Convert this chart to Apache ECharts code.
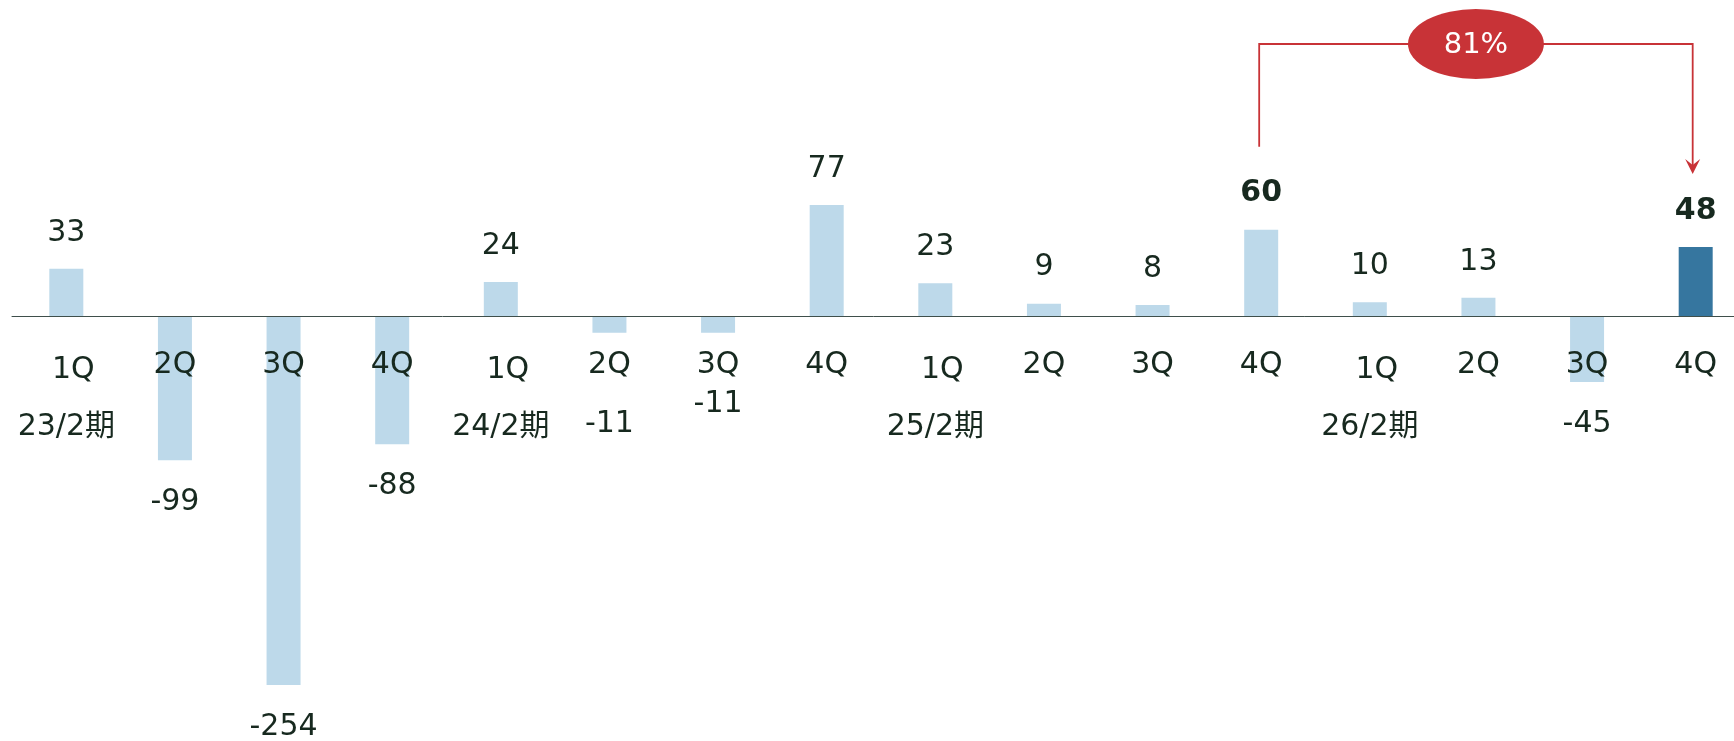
<!DOCTYPE html>
<html>
<head>
<meta charset="utf-8">
<script src="https://cdn.jsdelivr.net/npm/echarts@6/dist/echarts.min.js"></script>
<style>
  html, body { margin: 0; padding: 0; background: #fff; }
  #chart { width: 1734px; height: 741px; }
</style>
</head>
<body>
<div id="chart"></div>
<script>
    'use strict';

    // quarterly figures, 23/2期 .. 26/2期
    var quarters = ['1Q', '2Q', '3Q', '4Q', '1Q', '2Q', '3Q', '4Q',
                    '1Q', '2Q', '3Q', '4Q', '1Q', '2Q', '3Q', '4Q'];
    var fiscalYears = ['23/2期', '', '', '', '24/2期', '', '', '',
                       '25/2期', '', '', '', '26/2期', '', '', ''];
    var values = [33, -99, -254, -88, 24, -11, -11, 77,
                  23, 9, 8, 60, 10, 13, -45, 48];
    var compareFrom = 11;
    var compareTo = 15;
    var compareLabel = '81%';

    var FONT = '"DejaVu Sans", Verdana, "Noto Sans CJK JP", sans-serif';
    var TEXT = '#17291f';
    var RED = '#c83337';

    // label gaps for the two small bars whose labels sit under the axis text
    var extraGap = { 5: 77, 6: 57 };

    var data = values.map(function(v, i) {
        var neg = v < 0;
        var item = {
            value: v,
            label: {
                position: neg ? 'bottom' : 'top',
                distance: extraGap[i] || (neg ? 27 : 21)
            }
        };
        if (i === compareFrom || i === compareTo) {
            item.label.fontWeight = 'bold';
        }
        if (i === compareTo) {
            item.itemStyle = { color: '#36769f' };
        }
        return item;
    });

    var chart = echarts.init(document.getElementById('chart'), null, { renderer: 'canvas' });

    // grid ends at the zero line so the category labels sit right under it;
    // negative bars are drawn below the grid (clip off)
    chart.setOption({
        animation: false,
        grid: {
            left: 12, top: 0, width: 1738, height: 316.7,
            containLabel: false,
            outerBoundsMode: 'none'
        },
        xAxis: {
            type: 'category',
            data: quarters,
            z: 5,
            axisLine: { show: true, onZero: false, lineStyle: { color: '#3f4f4b', width: 1 } },
            axisTick: { show: false },
            axisLabel: {
                interval: 0,
                margin: 18,
                color: TEXT,
                fontFamily: FONT,
                formatter: function(val, idx) {
                    if (fiscalYears[idx]) {
                        return '{a|' + val + '}\n{y|' + fiscalYears[idx] + '}';
                    }
                    return '{q|' + val + '}';
                },
                rich: {
                    q: { fontSize: 30, lineHeight: 61, color: TEXT, fontFamily: FONT },
                    a: { fontSize: 30, lineHeight: 71, color: TEXT, fontFamily: FONT, padding: [0, 0, 0, 14] },
                    y: { fontSize: 30, lineHeight: 43, color: TEXT, fontFamily: FONT }
                }
            }
        },
        yAxis: {
            type: 'value',
            min: 0,
            max: 218.4,
            axisLine: { show: false },
            axisTick: { show: false },
            axisLabel: { show: false },
            splitLine: { show: false }
        },
        series: [{
            type: 'bar',
            data: data,
            clip: false,
            barWidth: 34,
            itemStyle: { color: '#bdd9ea' },
            label: {
                show: true,
                fontSize: 30,
                lineHeight: 30,
                color: TEXT,
                fontFamily: FONT
            }
        }]
    });

    // bracket with ellipse badge between the two compared quarters
    var p1 = chart.convertToPixel({ seriesIndex: 0 }, [compareFrom, values[compareFrom]]);
    var p2 = chart.convertToPixel({ seriesIndex: 0 }, [compareTo, values[compareTo]]);
    var x1 = p1[0] - 2, x2 = p2[0] - 3;
    var topY = 44;
    var startY = p1[1] - 83;
    var tipY = p2[1] - 73;
    var midX = (x1 + x2) / 2;

    chart.setOption({
        graphic: [
            {
                type: 'polyline',
                shape: { points: [[x1, startY], [x1, topY], [x2, topY], [x2, tipY - 9]] },
                style: { stroke: RED, lineWidth: 1.8, fill: null }
            },
            {
                type: 'polygon',
                shape: { points: [[x2 - 7.5, tipY - 15], [x2, tipY - 9], [x2 + 7.5, tipY - 15], [x2, tipY]] },
                style: { fill: RED }
            },
            {
                type: 'circle',
                x: midX, y: topY,
                scaleX: 136 / 70,
                shape: { cx: 0, cy: 0, r: 35 },
                style: { fill: RED }
            },
            {
                type: 'text',
                x: midX, y: topY + 1,
                style: {
                    text: compareLabel,
                    fill: '#fff',
                    fontSize: 29,
                    fontFamily: FONT,
                    align: 'center',
                    verticalAlign: 'middle'
                }
            }
        ]
    });
</script>
</body>
</html>
